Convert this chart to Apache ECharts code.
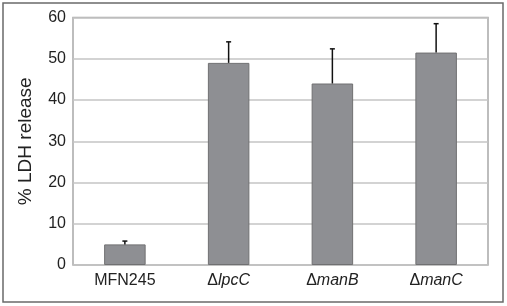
<!DOCTYPE html>
<html>
<head>
<meta charset="utf-8">
<script src="https://cdn.jsdelivr.net/npm/echarts@6/dist/echarts.min.js"></script>
<style>
  html, body {margin: 0; padding: 0; background: #fff;}
  #chart {width: 507px; height: 306px;}
</style>
</head>
<body>
<div id="chart"></div>
<script>
// strains and % LDH release (mean + upper error)
const strains = ['MFN245', 'ΔlpcC', 'ΔmanB', 'ΔmanC'];
const ldhMean = [5.0, 49.0, 44.0, 51.5];
const ldhErrTop = [5.8, 54.1, 52.4, 58.5];
const yTicks = [0, 10, 20, 30, 40, 50, 60];

const chart = echarts.init(document.getElementById('chart'));

const FONT = '"Liberation Sans", Arial, sans-serif';

const option = {
	animation: false,
	textStyle: {fontFamily: FONT},
	graphic: [{
		type: 'rect',
		shape: {x: 3, y: 3, width: 500, height: 299},
		style: {fill: 'none', stroke: '#6a6a6a', lineWidth: 1.5},
		silent: true
	}],
	grid: {
		left: 73, right: 19, top: 17.5, bottom: 41,
		show: true, borderColor: '#a8a8a8', borderWidth: 1.5
	},
	xAxis: {
		type: 'category',
		data: strains,
		axisLine: {show: false},
		axisTick: {show: false},
		axisLabel: {
			interval: 0,
			margin: 8,
			fontSize: 16,
			color: '#222',
			formatter: (v) => v.startsWith('Δ') ? `{d|Δ}{i|${v.slice(1)}}` : v,
			rich: {
				d: {fontSize: 16, color: '#222', fontFamily: FONT},
				i: {fontSize: 16, color: '#222', fontStyle: 'italic', fontFamily: FONT}
			}
		}
	},
	yAxis: {
		type: 'value',
		min: yTicks[0],
		max: yTicks[yTicks.length - 1],
		interval: 10,
		name: '% LDH release',
		nameLocation: 'middle',
		nameGap: 38,
		nameTextStyle: {fontSize: 19, color: '#222', fontFamily: FONT},
		axisLine: {show: false},
		axisTick: {show: false},
		axisLabel: {margin: 7, fontSize: 16, color: '#222'},
		splitLine: {lineStyle: {color: '#c4c4c4', width: 1.5}}
	},
	series: [
		{
			type: 'bar',
			data: ldhMean,
			barWidth: '40%',
			itemStyle: {color: '#8e8f93', borderColor: '#707072', borderWidth: 1},
			z: 2
		},
		{
			type: 'custom',
			data: ldhMean.map((m, i) => [i, m, ldhErrTop[i]]),
			z: 3,
			renderItem: (params, api) => {
				const base = api.coord([api.value(0), api.value(1)]);
				const top = api.coord([api.value(0), api.value(2)]);
				return {
					type: 'group',
					children: [
						{
							type: 'line',
							shape: {x1: base[0], y1: base[1], x2: top[0], y2: top[1]},
							style: {stroke: '#111', lineWidth: 1.5}
						},
						{
							type: 'line',
							shape: {x1: top[0] - 2.5, y1: top[1], x2: top[0] + 2.5, y2: top[1]},
							style: {stroke: '#111', lineWidth: 1.5}
						}
					]
				};
			}
		}
	]
};

chart.setOption(option);
</script>
</body>
</html>
